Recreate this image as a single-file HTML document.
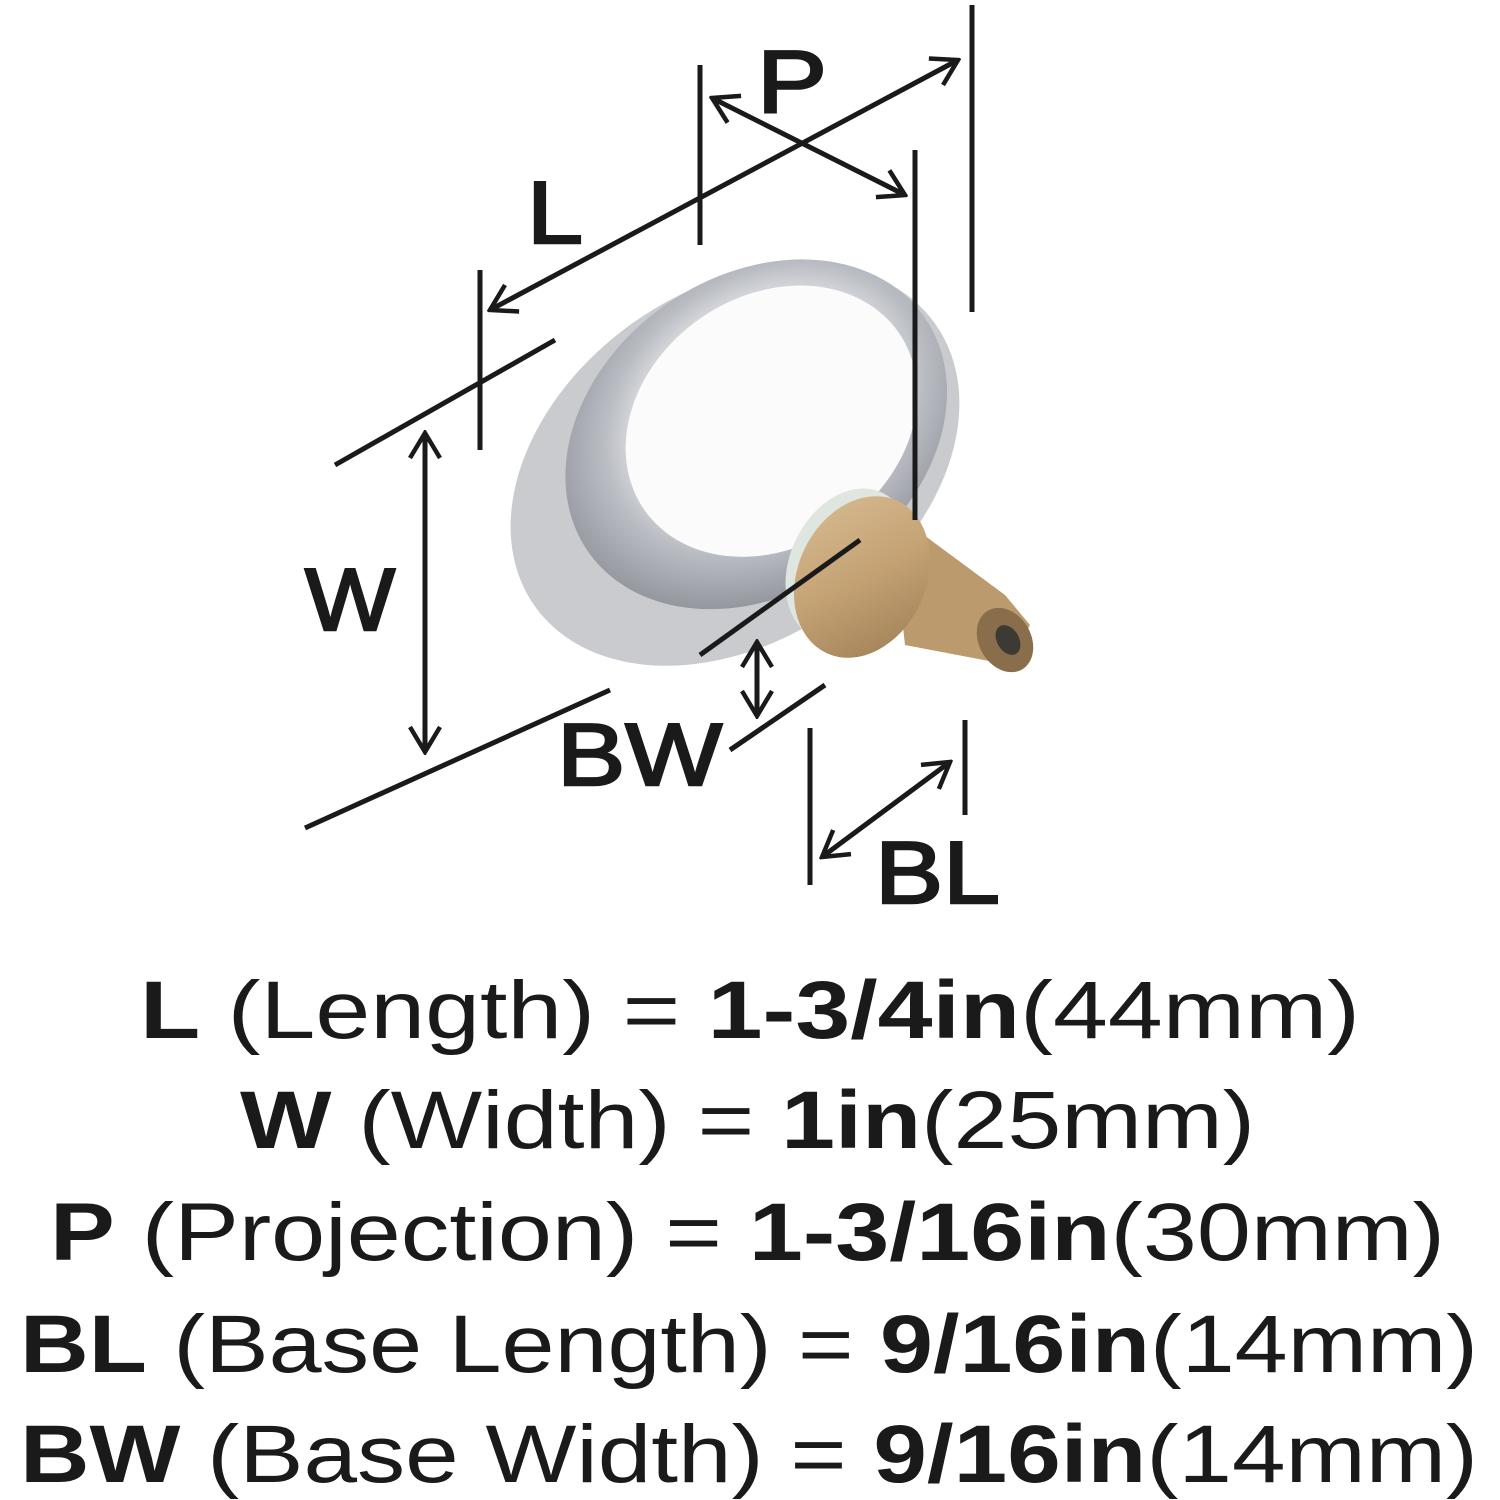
<!DOCTYPE html>
<html><head><meta charset="utf-8"><style>
html,body{margin:0;padding:0;background:#fff;}
svg{display:block}
text{font-family:"Liberation Sans",sans-serif;fill:#1a1a1a}
</style></head><body>
<svg width="1500" height="1500" viewBox="0 0 1500 1500" xmlns="http://www.w3.org/2000/svg">
<defs>
<radialGradient id="glass" cx="0.55" cy="0.45" r="0.6">
<stop offset="0" stop-color="#ffffff"/>
<stop offset="0.45" stop-color="#f2f3f5"/>
<stop offset="0.7" stop-color="#b9bcc2"/>
<stop offset="1" stop-color="#8c9097"/>
</radialGradient>
<linearGradient id="brass" x1="0" y1="0" x2="1" y2="1">
<stop offset="0" stop-color="#d9bd94"/>
<stop offset="0.5" stop-color="#c4a274"/>
<stop offset="1" stop-color="#9c7c54"/>
</linearGradient>
<marker id="ar" markerWidth="30" markerHeight="34" refX="27" refY="17" orient="auto-start-reverse" markerUnits="userSpaceOnUse" viewBox="0 0 30 34">
<path d="M2,2 L27,17 L2,32" fill="none" stroke="#1a1a1a" stroke-width="4.5"/>
</marker>
</defs>
<!-- knob -->
<g transform="rotate(-35 735 465)">
<ellipse cx="735" cy="465" rx="245" ry="175" fill="#c9cbcf"/>
<ellipse cx="770" cy="452" rx="205" ry="158" fill="url(#glass)"/>
<ellipse cx="790" cy="450" rx="155" ry="125" fill="#fbfbfc"/>
</g>
<ellipse cx="848" cy="565" rx="58" ry="80" transform="rotate(25 848 565)" fill="#dfe6e0"/>
<path d="M890,510 L1005,595 L1030,625 L1010,665 L905,645 Z" fill="#bb9a6e"/>
<ellipse cx="862" cy="577" rx="64" ry="84" transform="rotate(25 862 577)" fill="url(#brass)"/>
<ellipse cx="1005" cy="640" rx="26" ry="34" transform="rotate(-30 1005 640)" fill="#8a6e4c"/>
<ellipse cx="1008" cy="640" rx="11" ry="16" transform="rotate(-30 1008 640)" fill="#3c3a34"/>
<g stroke="#1a1a1a" stroke-width="5" fill="none" stroke-linecap="butt">
<line x1="490" y1="310" x2="958" y2="60" marker-start="url(#ar)" marker-end="url(#ar)"/>
<line x1="480" y1="270" x2="480" y2="450"/>
<line x1="972" y1="5" x2="972" y2="312"/>
<line x1="712" y1="98" x2="905" y2="195" marker-start="url(#ar)" marker-end="url(#ar)"/>
<line x1="700" y1="65" x2="700" y2="245"/>
<line x1="915" y1="150" x2="915" y2="520"/>
<line x1="425" y1="433" x2="425" y2="752" marker-start="url(#ar)" marker-end="url(#ar)"/>
<line x1="335" y1="465" x2="555" y2="340"/>
<line x1="305" y1="828" x2="610" y2="690"/>
<line x1="700" y1="655" x2="860" y2="540"/>
<line x1="730" y1="750" x2="825" y2="685"/>
<line x1="757" y1="642" x2="757" y2="716" marker-start="url(#ar)" marker-end="url(#ar)"/>
<line x1="810" y1="728" x2="810" y2="885"/>
<line x1="965" y1="720" x2="965" y2="815"/>
<line x1="822" y1="857" x2="950" y2="762" marker-start="url(#ar)" marker-end="url(#ar)"/>
</g>
<g font-size="88" stroke="#1a1a1a" stroke-width="2.5">
<text x="757" y="112" textLength="70" lengthAdjust="spacingAndGlyphs">P</text>
<text x="527" y="243" textLength="56" lengthAdjust="spacingAndGlyphs">L</text>
<text x="305" y="630" textLength="90" lengthAdjust="spacingAndGlyphs">W</text>
<text x="557" y="785" textLength="165" lengthAdjust="spacingAndGlyphs">BW</text>
<text x="875" y="903" textLength="125" lengthAdjust="spacingAndGlyphs">BL</text>
</g>
<g font-size="82">
<text x="140" y="1038" textLength="1220" lengthAdjust="spacingAndGlyphs"><tspan font-weight="bold">L</tspan> (Length) = <tspan font-weight="bold">1-3/4in</tspan>(44mm)</text>
<text x="240" y="1148" textLength="1015" lengthAdjust="spacingAndGlyphs"><tspan font-weight="bold">W</tspan> (Width) = <tspan font-weight="bold">1in</tspan>(25mm)</text>
<text x="50" y="1260" textLength="1395" lengthAdjust="spacingAndGlyphs"><tspan font-weight="bold">P</tspan> (Projection) = <tspan font-weight="bold">1-3/16in</tspan>(30mm)</text>
<text x="20" y="1372" textLength="1458" lengthAdjust="spacingAndGlyphs"><tspan font-weight="bold">BL</tspan> (Base Length) = <tspan font-weight="bold">9/16in</tspan>(14mm)</text>
<text x="20" y="1482" textLength="1458" lengthAdjust="spacingAndGlyphs"><tspan font-weight="bold">BW</tspan> (Base Width) = <tspan font-weight="bold">9/16in</tspan>(14mm)</text>
</g>
</svg>
</body></html>
